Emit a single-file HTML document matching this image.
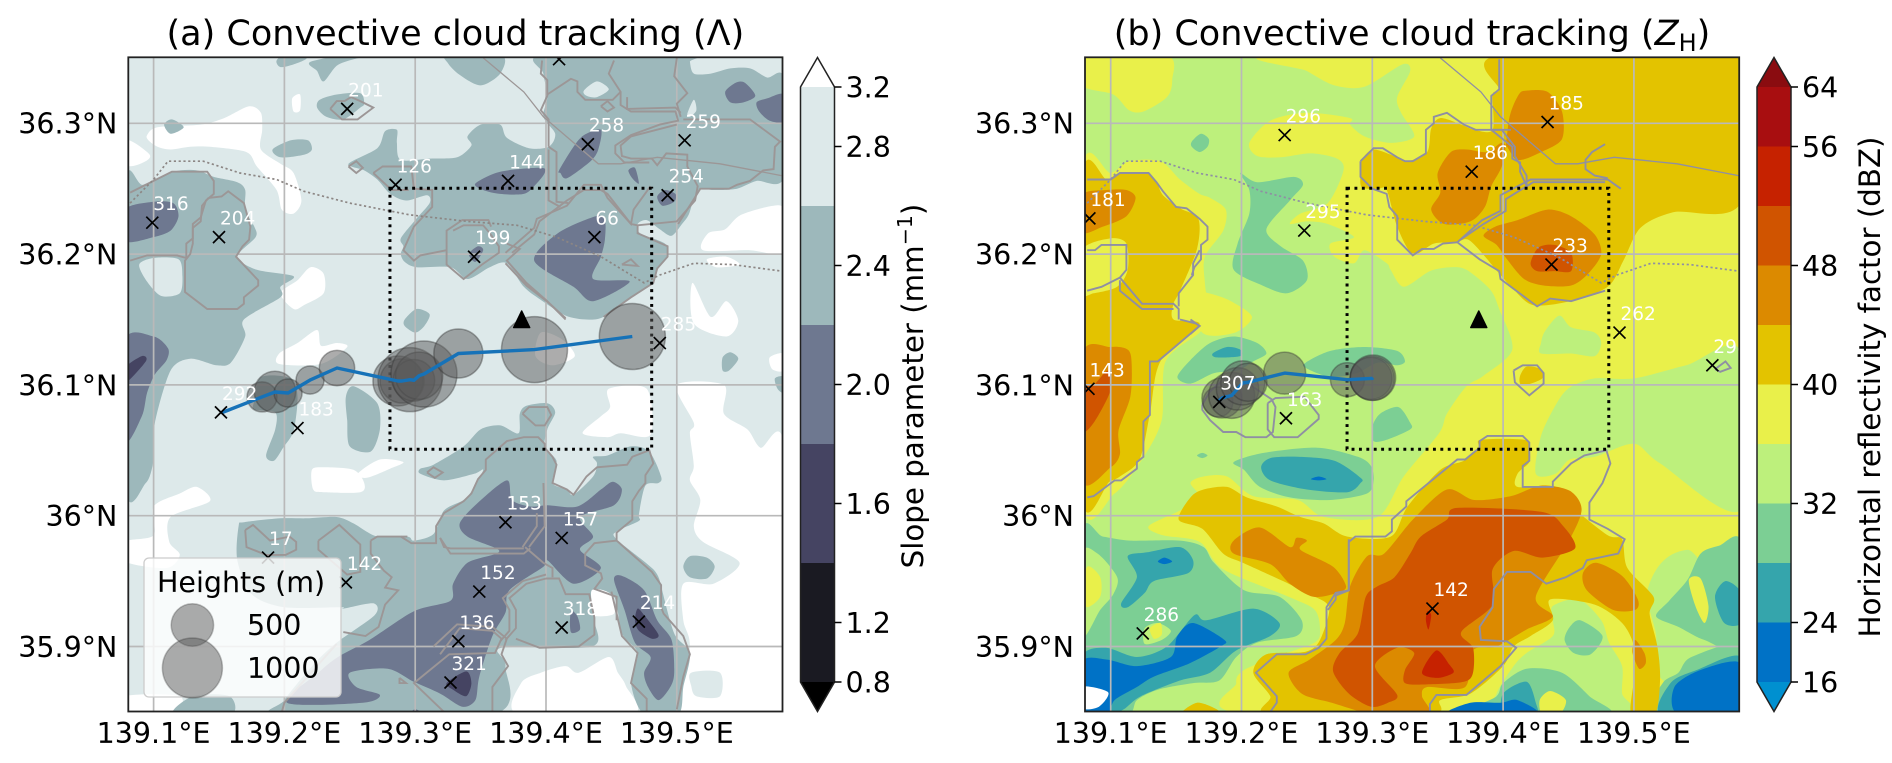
<!DOCTYPE html>
<html lang="en">
<head>
<meta charset="utf-8">
<title>Convective cloud tracking</title>
<style>
html,body{margin:0;padding:0;background:#fff;width:1892px;height:763px;overflow:hidden}
svg{display:block}
text{font-family:"DejaVu Sans","Liberation Sans",sans-serif;fill:#000}
</style>
</head>
<body>
<svg id="chart" xmlns="http://www.w3.org/2000/svg" width="1892" height="763" viewBox="0 0 1892 763">
  <defs>
    <clipPath id="clipA"><rect x="128.3" y="57.3" width="654.2" height="654.2"/></clipPath>
    <clipPath id="clipB"><rect x="1085" y="57.3" width="654.2" height="654.2"/></clipPath>
  </defs>
  <g id="panelA"></g>
  <g id="panelB"></g>
  <text x="455.4" y="45" font-size="35" text-anchor="middle">(a) Convective cloud tracking (Λ)</text>
  <text x="1412" y="45" font-size="35" text-anchor="middle">(b) Convective cloud tracking (<tspan font-style="italic">Z</tspan><tspan font-size="24" dy="6">H</tspan><tspan dy="-6">)</tspan></text>
  <g id="cbarA"></g>
  <g id="cbarB"></g>
  <text transform="translate(923,386) rotate(-90)" font-size="29.3" text-anchor="middle">Slope parameter (mm<tspan font-size="20.5" dy="-11">−1</tspan><tspan dy="11">)</tspan></text>
  <text transform="translate(1880,387) rotate(-90)" font-size="29.3" text-anchor="middle">Horizontal reflectivity factor (dBZ)</text>
  <g id="legendLayer">
    <rect x="144" y="558" width="197" height="139" rx="5" fill="#fff" fill-opacity="0.8" stroke="#ccc" stroke-width="1.3"/>
    <text x="157" y="592" font-size="28.5">Heights (m)</text>
    <text x="247" y="635" font-size="28.5">500</text>
    <text x="247" y="678" font-size="28.5">1000</text>
  </g>
</svg>
<script>
/* ---------- axis + tick data ---------- */
const lonTicks = [139.1, 139.2, 139.3, 139.4, 139.5];
const latTicks = [35.9, 36.0, 36.1, 36.2, 36.3];
const lonTickLabels = ['139.1°E', '139.2°E', '139.3°E', '139.4°E', '139.5°E'];
const latTickLabels = ['35.9°N', '36°N', '36.1°N', '36.2°N', '36.3°N'];

/* ---------- colorbar data ---------- */
const levelsA = [3.2, 2.8, 2.6, 2.4, 2.2, 2.0, 1.8, 1.6, 1.4, 1.2, 0.8];
const bandBoundsA = [3.2, 2.6, 2.2, 1.8, 1.4, 0.8];
const bandColorsA = ['#dde9ea', '#9db8bb', '#6e7890', '#454462', '#1a1a22'];
const ticksA = [3.2, 2.8, 2.4, 2.0, 1.6, 1.2, 0.8];
const levelsB = [64, 56, 52, 48, 44, 40, 36, 32, 28, 24, 16];
const bandBoundsB = [64, 56, 52, 48, 44, 40, 36, 32, 28, 24, 16];
const bandColorsB = ['#a80e10', '#c62200', '#d05400', '#dc8a00', '#e3c300', '#e9f04a', '#bdf07c', '#7ccf94', '#35a5ac', '#0072c6'];
const ticksB = [64, 56, 48, 40, 32, 24, 16];

/* ---------- tracks: lon, lat, height (m) ---------- */
const trackLonA = [139.1515, 139.1829, 139.1928, 139.2028, 139.2196, 139.2402, 139.2868, 139.2900, 139.2960, 139.2990, 139.3030, 139.3067, 139.3330, 139.3912, 139.4660];
const trackLatA = [36.0785, 36.0908, 36.0946, 36.0938, 36.1037, 36.1129, 36.1030, 36.1030, 36.1040, 36.1035, 36.1070, 36.1083, 36.1240, 36.1270, 36.1370];
const trackHeightA = [0, 250, 476, 218, 218, 348, 694, 540, 1138, 480, 620, 1210, 667, 1210, 1210];
const trackLonB = [139.182, 139.185, 139.1925, 139.197, 139.201, 139.205, 139.233, 139.281, 139.299, 139.300, 139.3005];
const trackLatB = [36.087, 36.090, 36.092, 36.097, 36.1015, 36.102, 36.109, 36.104, 36.105, 36.105, 36.1055];
const trackHeightB = [250, 444, 588, 500, 538, 400, 490, 321, 490, 538, 572];
const legendHeights = [500, 1000];

/* ---------- detected cells: lon, lat, id ---------- */
const cellLonA = [139.099, 139.150, 139.248, 139.285, 139.371, 139.345, 139.432, 139.506, 139.493, 139.437, 139.410, 139.487, 139.1515, 139.210, 139.1875, 139.247, 139.369, 139.412, 139.349, 139.333, 139.327, 139.412, 139.471];
const cellLatA = [36.224, 36.213, 36.311, 36.253, 36.256, 36.198, 36.284, 36.287, 36.245, 36.213, 36.349, 36.132, 36.079, 36.067, 35.968, 35.949, 35.995, 35.983, 35.942, 35.904, 35.8725, 35.9145, 35.919];
const cellIdA = ['316', '204', '201', '126', '144', '199', '258', '259', '254', '66', '', '285', '292', '183', '17', '142', '153', '157', '152', '136', '321', '318', '214'];
const cellLonB = [139.0837, 139.083, 139.233, 139.248, 139.376, 139.434, 139.437, 139.489, 139.560, 139.183, 139.234, 139.346, 139.1245];
const cellLatB = [36.2273, 36.097, 36.291, 36.218, 36.263, 36.301, 36.192, 36.140, 36.115, 36.087, 36.0745, 35.929, 35.910];
const cellIdB = ['181', '143', '296', '295', '186', '185', '233', '262', '298', '307', '163', '142', '286'];

/* ---------- map geometry: "x,y" in milli-degrees from (139E, 35.8N) ---------- */
const boxLon = [139.2807, 139.4808];
const boxLat = [36.0508, 36.2503];
const siteLon = [139.3814];
const siteLat = [36.1496];
const dottedBoundary = ["82,439 100,457 111,471 138,471 166,462 194,457 215,448 250,439 296,430 340,425 378,422 408,413 442,398 475,378 487,384 513,393 543,392 580,387"];
const solidBoundary = ["352,550 383,524 398,505 440,469 457,469 485,474 533,469 580,460"];

const whiteA = [
 "95,491 103,497 136,499 154,504 173,513 182,508 183,495 182,480 197,469 207,462 213,441 207,431 198,434 194,449 179,467 171,478 143,482 128,482 113,480 103,482 96,487",
 "80,487 97,476 92,470 80,468",
 "206,519 212,522 212,510 207,509",
 "197,370 210,380 220,390 230,385 230,370 215,361 207,358",
 "500,300 513,271 510,263 513,238 510,227 518,212 513,192 520,180 548,164 528,148 505,148 505,120 510,100 505,48 582,48 582,252 564,252 554,266 536,278 536,300",
 "448,297 477,297 480,262 457,263 447,260 428,263 442,276 449,283",
 "221,235 230,237 253,235 261,225 258,218 230,218 222,220",
 "256,232 273,243 291,241 281,236 263,229",
 "196,324 210,332 225,342 228,330 240,332 248,329 228,316 196,316",
 "100,207 120,217 133,222 143,211 113,199 112,180 120,170 110,160 78,165 78,180 100,185",
 "379,48 381,72 396,80 415,85 425,80 448,92 455,80 461,70 466,48",
 "431,143 448,143 452,125 431,125",
 "78,48 115,48 120,62 78,62",
 "520,403 524,416 537,419 549,430 574,437 582,433 582,401 556,403",
 "523,396 538,398 548,392 530,390",
 "512,378 526,352 538,364 547,349 538,337 513,347",
 "571,321 582,324 582,311 573,312",
 "396,340 412,335 422,322 405,315 392,322"
];
const lightOnWhiteA = ["511,80 533,80 533,62 515,62 511,70"];
const midA = [
 "78,449 92,453 115,463 133,464 146,459 164,455 170,449 170,434 177,421 178,413 164,398 179,388 207,383 197,375 197,367 169,350 170,337 159,317 148,315 128,320 113,311 101,271 100,243 94,225 78,225",
 "194,548 202,554 217,550 207,545 197,543",
 "220,547 256,554 272,553 253,549 240,544 230,532 225,540",
 "225,512 227,518 240,522 258,523 261,515 258,512 245,503 232,505",
 "108,499 114,503 123,497 113,492",
 "191,480 205,487 218,487 221,480 215,476 197,474",
 "249,469 271,481 277,494 286,495 286,485 289,472 311,473 332,474 343,483 340,490 350,499 365,499 370,489 387,481 402,482 407,492 398,505 401,520 398,538 397,552 510,552 510,547 513,538 526,538 541,542 556,542 569,535 582,534 582,459 561,456 546,450 528,449 518,450 513,442 509,430 504,423 496,414 487,419 477,426 470,423 472,416 491,408 493,398 485,388 482,378 465,367 444,352 431,350 415,353 396,365 383,375 370,393 357,390 340,381 327,390 301,390 292,394 289,400 291,406 289,412 300,426 311,439 309,445 293,441 281,446 271,457 261,464",
 "325,552 366,552 365,538 350,529 334,537 325,546",
 "292,350 301,358 311,354 307,345 300,340 292,345",
 "247,291 253,299 271,286 273,266 266,249 250,253 248,273",
 "177,288 182,306 205,305 210,291 207,265 199,252 192,242 186,246 193,266 193,279 177,281",
 "165,192 169,195 197,198 217,198 240,199 253,194 271,184 294,184 299,181 314,186 322,204 337,212 344,220 352,235 345,232 322,227 304,232 304,236 314,239 337,253 350,266 365,269 379,263 380,278 385,284 401,286 407,279 401,266 399,252 408,242 405,225 416,220 421,216 436,230 439,240 436,245 447,246 465,253 479,249 488,230 486,225 476,223 471,201 471,196 454,188 454,182 482,159 488,147 488,146 498,110 510,95 505,69 501,48 475,48 465,72 470,95 458,110 452,138 435,143 437,120 435,100 366,99 369,85 359,48 198,48 200,59 223,87 240,103 269,124 268,133 245,129 243,130 200,130 175,140 164,166",
 "130,62 158,62 159,48 115,48",
 "505,161 510,169 523,168 529,161 523,152 510,153",
 "535,321 541,325 547,320 540,311 535,311",
 "575,305 582,306 582,294 577,297"
];
const lightOnMidA = [
 "89,392 100,397 119,396 122,383 120,370 106,368 95,379",
 "429,525 439,532 448,526 439,520 431,521",
 "508,507 513,518 515,510 510,505"
];
const slateA = [
 "78,434 100,440 115,439 119,429 113,418 100,413 78,410",
 "78,334 100,337 111,328 110,319 101,308 95,294 91,276 78,258",
 "346,454 365,463 396,466 399,462 391,452 383,446 365,446 352,449",
 "410,464 421,482 429,491 442,495 440,480 434,471 416,458 411,462",
 "463,464 468,466 471,454 466,458",
 "485,444 491,449 499,446 498,440 489,437",
 "391,395 409,416 438,429 445,426 445,411 442,398 436,381 464,379 436,364 421,375",
 "341,400 348,406 352,403 346,394",
 "537,524 545,531 552,531 560,521 551,516 541,516",
 "561,516 569,519 582,522 582,502 571,502 563,509",
 "329,148 340,164 362,171 362,175 340,184 334,194 347,209 370,227 374,212 388,207 401,208 424,207 442,220 451,226 458,220 452,208 426,199 436,184 426,174 442,160 421,148 401,166 398,161 372,143 369,126 359,108 349,77 346,59 336,54 319,64 299,73 279,83 250,80 255,69 273,63 260,57 202,57 226,80 241,92 265,105 299,127 327,135",
 "452,151 458,154 475,143 485,120 496,105 498,80 495,69 486,59 478,69 475,80 480,92 468,103 460,128",
 "419,127 424,123 426,113 419,111",
 "296,48 300,52 307,48"
];
const darkA = [
 "78,313 91,322 94,318 78,301",
 "324,72 339,81 343,72 339,62 329,67",
 "470,129 475,124 486,109 481,106 471,112 468,120"
];
const outlinesA = [
 "82,447 92,452 114,463 141,463 146,456 146,446 140,441 136,428 130,423 130,412 125,408 125,397 118,399 95,399 82,395",
 "142,443 152,444 157,448 169,439 174,421 173,411 168,406 163,398 180,380 180,376 169,367 169,362 164,358 141,358 124,371 124,395 128,400 130,408 130,420 136,425 137,437 142,443",
 "235,511 240,517 246,517 251,520 258,517 268,512 256,503 244,503 235,511",
 "249,467 255,471 260,466 255,462 249,467",
 "268,462 275,467 297,467 299,450 313,449 313,436 299,421 291,403 299,395 304,399 324,403",
 "268,462 282,449 295,449",
 "329,418 337,422 352,422 357,416 364,406 364,401 351,392 337,381 324,392 324,418 336,426 356,426 358,421",
 "370,408 380,404 370,395 385,378 401,364 415,350",
 "402,482 408,478 408,440 417,439",
 "402,480 402,441 411,436",
 "397,548 396,538 401,533 401,521 396,510 402,503 402,482",
 "401,522 419,534 424,532 424,524 430,518 451,518 457,524 448,538 452,548",
 "442,513 447,517 452,512 447,509 442,513",
 "457,524 457,514 465,509 499,509 501,502 487,499 465,491 453,483 453,477 460,470 479,470",
 "462,520 462,511 499,512 503,508",
 "500,550 498,536 508,523 500,515 503,505",
 "500,499 465,490 457,483 458,475 465,473 481,473 485,468 492,477 508,476 508,467 516,452 514,441 500,425 470,422 465,423",
 "505,503 556,503 579,486 575,482 574,465 566,464 556,456 546,453 540,450 518,450 513,442 501,423",
 "480,452 467,434 465,423 447,443 442,453 429,453 416,437 393,427 391,420 369,401",
 "465,423 447,446 442,449 429,449 416,441 395,425 391,415 374,401",
 "470,422 470,416 493,406 493,398 485,389 482,378 465,367 444,352",
 "369,393 385,376 403,362 415,351",
 "458,392 465,396 470,391 458,392",
 "382,278 387,283 401,283 404,277 399,269 392,269 382,278",
 "309,233 314,237 321,233 315,229 309,233",
 "289,184 297,179 316,179 316,192 322,202 337,211 343,217 348,228 354,235 354,243 370,257 383,260 394,260 399,255 399,252 405,245 408,239 405,225 416,220 421,216 431,230 439,237 462,239 466,245 479,250 482,240 476,231 476,225 471,219 466,211 466,197 454,187 454,181 481,157 488,147 488,130 490,125 505,108 510,94 505,77 500,52",
 "454,181 437,179 430,171 430,162 442,156 443,152 437,144 454,138 454,120",
 "450,142 458,108 470,95 465,72 477,60 477,50",
 "400,152 385,148 372,137 377,128 377,114 369,105",
 "400,155 382,150 367,137 372,128 372,112 365,104",
 "400,152 410,152 415,140 433,140 437,122 437,109 425,100 395,99 377,106",
 "319,183 327,171 383,171 388,175",
 "319,183 322,176 327,175 383,175",
 "384,176 398,164 405,160 405,153",
 "393,202 393,192 382,176",
 "398,225 399,192 387,176",
 "170,189 176,193 189,181 204,184 209,180 209,174 201,170 186,170 171,176 170,189",
 "226,181 242,193 258,178 258,157 248,155 226,174 226,181",
 "266,181 271,184 294,184",
 "266,181 266,171 276,158 282,153 277,145 287,143 277,132 272,115 262,108 245,111",
 "314,100 332,117 359,115 370,106 366,94 371,85 359,69 359,50",
 "319,94 334,114 359,112 366,106 361,95 326,94 299,72 322,50",
 "288,76 293,72 288,72 288,76",
 "198,50 200,57 240,102"
];

const yellowB = [
 "81,552 143,552 147,533 143,520 125,509 114,510 102,522 78,529 78,552",
 "78,462 100,462 114,471 138,471 153,457 168,446 176,443 188,434 186,418 172,398 172,378 175,350 168,340 142,318 139,273 124,243 103,217 78,212",
 "160,372 175,370 192,364 208,352 195,340 170,340",
 "229,552 582,552 582,170 541,174 521,164 510,140 517,108 514,85 514,48 206,48 196,72 202,82 226,92 256,103 260,113 256,128 236,138 186,159 168,180 140,185 129,192 153,204 168,214 161,225 171,230 189,230 209,215 243,212 263,199 304,199 324,230 351,263 357,278 372,299 385,307 407,327 397,358 390,373 372,388 360,390 344,387 324,375 314,388 311,393 294,403 286,393 271,398 268,408 286,413 266,423 250,425 237,423 245,431 266,439 278,464 273,473 253,477 230,474 212,475 206,485 222,502 250,508 283,504 283,499 294,490 314,485 332,490 322,508 319,520 329,540 323,545 294,528 271,529 250,540"
];
const lightGreenOverlayB = [
 "451,298 441,286 429,261 425,232 440,232 451,243 470,245 500,255 520,240 582,205 582,325 540,315 500,305 470,305",
 "429,332 432,341 443,353 452,344 470,340 475,332 470,322 452,324 429,324",
 "438,131 458,136 475,120 481,103 491,85 491,64 496,48 395,48 395,64 408,85 418,95 438,108 438,120",
 "332,355 347,365 365,354 350,340 335,342"
];
const greenB = [
 "199,462 212,455 240,459 247,453 237,441 219,419 230,406 247,395 250,380 235,370 216,376 194,388 197,408 206,431 206,449",
 "162,486 169,492 175,488 174,482 168,478 162,482",
 "151,306 161,319 176,332 194,337 212,332 219,324 209,318 197,311 179,309 161,301",
 "249,317 268,326 294,329 319,326 325,318 319,315 304,317 288,309 268,306 249,313",
 "300,268 306,278 320,283 329,271 329,266 311,258 301,257",
 "194,241 217,248 258,252 289,245 299,238 301,227 296,217 268,212 237,214 214,222 202,235",
 "166,246 170,248 174,246 170,244",
 "78,186 94,184 115,181 153,181 171,176 179,164 202,143 229,138 246,120 242,108 212,103 196,92 183,74 163,72 136,67 120,59 113,48 78,48",
 "451,115 459,120 476,108 467,94 454,95 447,105",
 "400,72 418,83 445,80 466,62 479,48 375,48 395,62",
 "551,171 565,177 582,180 582,100 554,105 534,115 517,123 527,135 541,151",
 "514,48 522,72 534,80 544,92 582,100 582,48"
];
const lightGreenLobesB = [
 "78,171 90,171 105,153 102,140 92,128 78,108",
 "126,114 136,118 146,112 139,105 126,102"
];
const tealB = [
 "215,237 222,244 243,245 271,242 291,229 291,225 281,218 250,220 222,227",
 "178,324 189,329 199,327 199,322 181,321",
 "113,169 128,172 153,176 163,166 159,156 133,150 126,141 113,130 108,133 120,153",
 "78,92 96,99 120,92 143,100 164,124 173,120 209,129 229,118 222,108 196,97 176,80 153,74 123,62 110,52 100,48 78,48",
 "400,64 418,73 425,57 425,48 401,48",
 "562,138 570,150 582,141 582,118 569,118",
 "521,48 528,72 548,82 582,92 582,48"
];
const blueB = [
 "78,88 97,90 120,85 146,92 151,108 163,118 187,105 184,100 160,87 133,77 120,69 103,59 97,48 78,48",
 "253,228 259,230 265,228 259,227",
 "136,165 141,168 147,165 141,163",
 "358,48 375,57 398,57 411,59 425,48",
 "534,48 531,69 551,82 582,87 582,48"
];
const yellowSmallB = [
 "82,161 92,153 92,138 82,130 78,140",
 "130,114 138,118 139,109 133,106",
 "428,59 436,66 448,59 443,48 430,48",
 "542,151 551,152 557,131 554,118 547,131"
];
const goldB = [
 "78,457 97,457 107,462 128,462 135,455 140,445 153,435 167,427 166,404 153,372 148,362 148,350 168,346 138,318 130,278 122,243 107,230 99,226 78,215",
 "292,472 301,480 319,474 327,471 342,478 345,496 352,504 368,499 378,495 392,495 392,522 397,526 397,552 582,552 582,440 530,432 505,420 492,395 480,375 451,364 423,361 408,373 398,384 375,410 364,409 347,408 331,400 319,421 311,449 304,450 292,451 291,462",
 "413,307 418,314 429,312 430,305 418,300 413,301",
 "161,214 171,220 189,222 204,214 227,207 245,199 263,194 281,184 314,184 327,207 352,235 370,242 381,252 383,258 416,258 420,251 420,241 411,232 411,222 440,222 455,205 480,185 491,182 495,160 515,138 512,125 518,100 520,75 516,48 498,48 500,75 500,100 491,118 470,132 436,136 438,120 421,108 408,100 400,85 375,64 352,59 343,48 222,48 222,62 209,80 219,94 249,96 260,105 267,130 252,140 236,148 201,164 186,171 170,190 152,197",
 "154,48 166,57 181,52 181,48"
];
const yellowOnGoldB = ["78,403 100,412 112,408 113,388 105,375 87,370 78,370"];
const orangeB = [
 "78,445 97,449 112,449 119,443 112,429 94,421 78,417",
 "78,323 100,329 113,327 116,317 115,291 106,265 107,247 100,237 78,227",
 "350,462 360,478 372,480 388,478 400,485 411,472 429,478 445,488 445,509 434,524 418,525 412,522 405,505 400,470 391,452 386,436 375,425 355,423 345,434 352,447",
 "385,414 394,421 411,426 434,434 452,429 470,415 475,400 465,385 452,376 431,376 416,381 403,396 395,407",
 "194,181 214,191 237,176 242,183 250,181 245,174 270,161 280,146 273,141 255,138 237,148 222,163 194,171",
 "283,146 296,169 309,171 331,197 357,220 378,212 406,215 429,223 451,219 460,205 451,182 425,138 438,123 418,113 395,100 377,97 371,69 342,69 338,62 343,48 302,48 269,57 246,64 236,80 252,90 272,105 279,118",
 "461,156 471,164 491,154 503,136 501,128 484,128 464,143",
 "501,105 508,95 509,87 504,83 499,95"
];
const burntB = [
 "78,297 87,300 98,311 100,296 87,271 78,265",
 "421,393 427,405 439,407 452,401 452,387 439,387 426,387",
 "295,138 304,146 317,153 329,171 337,184 357,197 365,206 429,203 446,192 455,175 430,168 408,173 392,159 392,132 368,111 377,99 377,80 370,73 342,71 325,72 325,82 332,95 319,99 302,85 319,63 312,57 299,54 282,64 270,81 275,95 289,110"
];
const redB = [
 "349,97 359,86 362,80 350,76 338,80",
 "342,127 345,124 343,113 341,120"
];
const whiteB = ["78,69 98,65 91,54 78,53"];
const outlinesB = [
 "82,457 100,457 107,462 129,462 135,455 140,448 150,436 158,435 168,427 174,421 174,411 169,407 169,396 164,390 162,384",
 "82,403 88,403 93,407 112,407 112,388 107,382 93,375 82,372",
 "107,380 107,372 124,358 148,358",
 "107,382 124,362 148,362 152,358 152,350",
 "168,403 163,393 163,384 152,370 152,360",
 "153,350 165,347 168,345 136,318 130,318 130,277 125,272 125,245 120,241 120,236 108,227 103,227 87,215 82,214",
 "291,471 301,481 308,481 319,474 325,471 331,471 341,477 341,495 347,500 347,505 357,508 370,499 379,495 406,495",
 "291,471 291,459 300,450 311,446 313,436 319,429 319,411 331,399 338,404 347,404 354,408 365,409",
 "365,409 384,426 398,433 398,445 421,457 452,457 480,457 490,450",
 "366,410 385,423 402,433 402,442 423,455 452,455 478,455",
 "365,409 382,396 397,387 398,381 426,360 436,366 452,364 478,372",
 "397,549 397,526 391,521 391,495 407,482 407,473 413,470 413,463 418,452",
 "391,495 399,495 409,482 409,475 418,460 418,450",
 "408,311 415,315 426,315 431,309 431,301 420,292 409,302 408,311",
 "266,128 272,136 272,139 282,143 282,180 287,184 310,184 315,188 315,197 326,207 326,211 365,243 371,243 382,252 382,257 388,261 415,261 420,256 420,242 415,238 415,222 438,222 438,226 452,240 462,246 479,250 482,240 476,225 466,210 466,197 480,190 493,182 488,171 464,166 461,160 448,153 433,148 421,157 403,157 393,144 392,130 382,115 383,105 403,104 410,99 398,85 372,63 349,63 344,56 344,50",
 "282,182 282,143 272,141 265,130 265,106 259,99 249,94 227,94 211,80 227,62 227,57 222,50",
 "170,285 176,295 186,304 202,303 223,289 226,283 224,264 219,260 203,260 196,264 186,264 176,273 170,281 170,285",
 "220,286 226,290 248,291 259,277 259,274 243,260 225,260 220,266 220,286",
 "161,350 168,345 161,339",
 "562,312 570,318 574,313 566,310 562,312",
 "478,484 468,478 463,472 463,465 470,460 480,458"
];

/* ---------- drawing helpers ---------- */
const SVGNS = 'http://www.w3.org/2000/svg';
const GRID_X0_A = 153.6;
const GRID_X0_B = 1110.7;
const PX_PER_DEG = 1308;
const radiusForHeight = h => 30 * Math.sqrt(h / 1000);

function parsePts(str) {
  return str.trim().split(/\s+/).map(p => p.split(',').map(Number));
}
function mk(tag, attrs, parent) {
  const el = document.createElementNS(SVGNS, tag);
  for (const k in attrs) el.setAttribute(k, attrs[k]);
  parent.appendChild(el);
  return el;
}
function makeAxes(x0) {
  return {
    x: lon => x0 + (lon - 139.1) * PX_PER_DEG,
    y: lat => 646.5 - (lat - 35.9) * PX_PER_DEG
  };
}
function project(ax, pts) {
  return pts.map(p => [ax.x(139 + p[0] / 1000), ax.y(35.8 + p[1] / 1000)]);
}
function smoothPath(pts) {
  const n = pts.length;
  let d = 'M' + pts[0][0].toFixed(1) + ' ' + pts[0][1].toFixed(1);
  for (let i = 0; i < n; i++) {
    const p0 = pts[(i - 1 + n) % n], p1 = pts[i], p2 = pts[(i + 1) % n], p3 = pts[(i + 2) % n];
    const c1x = p1[0] + (p2[0] - p0[0]) / 7, c1y = p1[1] + (p2[1] - p0[1]) / 7;
    const c2x = p2[0] - (p3[0] - p1[0]) / 7, c2y = p2[1] - (p3[1] - p1[1]) / 7;
    d += 'C' + c1x.toFixed(1) + ' ' + c1y.toFixed(1) + ' ' + c2x.toFixed(1) + ' ' + c2y.toFixed(1) + ' ' + p2[0].toFixed(1) + ' ' + p2[1].toFixed(1);
  }
  return d + 'Z';
}
function drawFills(ax, parent, list, color, name) {
  list.forEach(s => {
    const el = mk('path', { d: smoothPath(project(ax, parsePts(s))), fill: color }, parent);
    
    
  });
}
function drawLines(ax, parent, list, attrs, name) {
  list.forEach(s => {
    const pts = project(ax, parsePts(s)).map(p => p[0].toFixed(1) + ',' + p[1].toFixed(1)).join(' ');
    const el = mk('polyline', Object.assign({ points: pts, fill: 'none' }, attrs), parent);
    
    
  });
}
function drawGrid(ax, parent) {
  lonTicks.forEach(lon => {
    const el = mk('line', { x1: ax.x(lon), x2: ax.x(lon), y1: 57, y2: 712, stroke: '#b9b9b9', 'stroke-width': 1.7 }, parent);
    
    
  });
  latTicks.forEach(lat => {
    const el = mk('line', { x1: ax.x(139.0), x2: ax.x(139.6), y1: ax.y(lat), y2: ax.y(lat), stroke: '#b9b9b9', 'stroke-width': 1.7 }, parent);
    
    
  });
}
function drawBox(ax, parent) {
  const x1 = ax.x(boxLon[0]), x2 = ax.x(boxLon[1]), y1 = ax.y(boxLat[1]), y2 = ax.y(boxLat[0]);
  const el = mk('rect', { x: x1, y: y1, width: x2 - x1, height: y2 - y1, fill: 'none', stroke: '#000', 'stroke-width': 3, 'stroke-dasharray': '2.9 4.5' }, parent);
  
  
}
function drawTrack(ax, parent, lons, lats, heights) {
  lons.forEach((lon, i) => {
    if (heights[i] <= 0) return;
    const el = mk('circle', { cx: ax.x(lon), cy: ax.y(lats[i]), r: radiusForHeight(heights[i]), fill: 'rgba(90,90,90,0.5)', stroke: 'rgba(50,50,50,0.4)', 'stroke-width': 1.5 }, parent);
    
    
  });
  const pts = lons.map((lon, i) => ax.x(lon).toFixed(1) + ',' + ax.y(lats[i]).toFixed(1)).join(' ');
  const line = mk('polyline', { points: pts, fill: 'none', stroke: '#1672b8', 'stroke-width': 3.4, 'stroke-linejoin': 'round' }, parent);
  
  
}
function drawSite(ax, parent) {
  const cx = ax.x(siteLon[0]), cy = ax.y(siteLat[0]);
  const el = mk('path', { d: 'M' + cx + ' ' + (cy - 9) + 'L' + (cx + 8) + ' ' + (cy + 7.5) + 'L' + (cx - 8) + ' ' + (cy + 7.5) + 'Z', fill: '#000', stroke: '#000', 'stroke-width': 1.5, 'stroke-linejoin': 'round' }, parent);
  
  
}
function drawCells(ax, parent, lons, lats, ids) {
  lons.forEach((lon, i) => {
    const x = ax.x(lon), y = ax.y(lats[i]);
    const cross = mk('path', { d: 'M' + (x - 6) + ' ' + (y - 6) + 'L' + (x + 6) + ' ' + (y + 6) + 'M' + (x - 6) + ' ' + (y + 6) + 'L' + (x + 6) + ' ' + (y - 6), stroke: '#000', 'stroke-width': 1.7, fill: 'none' }, parent);
    
    
    if (!ids[i]) return;
    const t = mk('text', { x: x + 1, y: y - 12.5, 'font-size': 18.5 }, parent);
    t.style.fill = '#fff';
    t.textContent = ids[i];
    
    
  });
}
function drawAxesFrame(ax, parent, left) {
  const frame = mk('rect', { x: left, y: 57.3, width: 654.2, height: 654.2, fill: 'none', stroke: '#222', 'stroke-width': 1.8 }, parent);
  
  
  lonTicks.forEach((lon, i) => {
    const t = mk('text', { x: ax.x(lon), y: 743, 'font-size': 28.5, 'text-anchor': 'middle' }, parent);
    t.textContent = lonTickLabels[i];
    
    
  });
  latTicks.forEach((lat, i) => {
    const t = mk('text', { x: left - 11, y: ax.y(lat) + 10.4, 'font-size': 28.5, 'text-anchor': 'end' }, parent);
    t.textContent = latTickLabels[i];
    
    
  });
}
function drawColorbar(parent, x, levels, bounds, colors, ticks, topExt, botExt) {
  const w = 34, top = 87, slot = 59.5;
  const yOf = v => top + levels.indexOf(v) * slot;
  colors.forEach((c, i) => {
    const y1 = yOf(bounds[i]), y2 = yOf(bounds[i + 1]);
    const el = mk('rect', { x: x, y: y1, width: w, height: y2 - y1 + 0.4, fill: c }, parent);
    
    
  });
  const bottom = top + (levels.length - 1) * slot;
  const t1 = mk('path', { d: 'M' + x + ' ' + top + 'L' + (x + w / 2) + ' 57.5L' + (x + w) + ' ' + top + 'Z', fill: topExt }, parent);
  
  
  const t2 = mk('path', { d: 'M' + x + ' ' + bottom + 'L' + (x + w / 2) + ' 711.5L' + (x + w) + ' ' + bottom + 'Z', fill: botExt }, parent);
  
  
  const outline = mk('path', { d: 'M' + x + ' ' + top + 'L' + (x + w / 2) + ' 57.5L' + (x + w) + ' ' + top + 'L' + (x + w) + ' ' + bottom + 'L' + (x + w / 2) + ' 711.5L' + x + ' ' + bottom + 'Z', fill: 'none', stroke: '#222', 'stroke-width': 1.5 }, parent);
  
  
  ticks.forEach(v => {
    const y = yOf(v);
    const tick = mk('line', { x1: x + w, x2: x + w + 7, y1: y, y2: y, stroke: '#000', 'stroke-width': 1.5 }, parent);
    
    
    const t = mk('text', { x: x + w + 11, y: y + 10.4, 'font-size': 28.5 }, parent);
    t.textContent = Number.isInteger(v) && levels === levelsB ? String(v) : v.toFixed(1);
    
    
  });
}

/* ---------- panel (a) ---------- */
(function () {
  const ax = makeAxes(GRID_X0_A);
  const root = document.getElementById('panelA');
  const g = mk('g', { 'clip-path': 'url(#clipA)' }, root);
  const bg = mk('rect', { x: 128, y: 57, width: 655, height: 655, fill: '#dde9ea' }, g);
  
  
  drawFills(ax, g, whiteA, '#ffffff', 'slope-above-range-region');
  drawFills(ax, g, lightOnWhiteA, '#dde9ea', 'slope-contour-light');
  drawFills(ax, g, midA, '#9db8bb', 'slope-contour-2-4');
  drawFills(ax, g, lightOnMidA, '#dde9ea', 'slope-contour-light');
  drawFills(ax, g, slateA, '#6e7890', 'slope-contour-2-0');
  drawFills(ax, g, darkA, '#454462', 'slope-contour-1-6');
  drawGrid(ax, g);
  drawLines(ax, g, outlinesA, { stroke: '#9c9696', 'stroke-width': 1.9, 'stroke-linejoin': 'miter' }, 'cell-outline');
  drawLines(ax, g, dottedBoundary, { stroke: '#8c8684', 'stroke-width': 1.7, 'stroke-dasharray': '2.2 2.6' }, 'boundary-dotted');
  drawLines(ax, g, solidBoundary, { stroke: '#9c9696', 'stroke-width': 1.3 }, 'boundary-solid');
  drawBox(ax, g);
  drawTrack(ax, g, trackLonA, trackLatA, trackHeightA);
  drawSite(ax, g);
  drawCells(ax, g, cellLonA, cellLatA, cellIdA);
  drawAxesFrame(ax, root, 128.3);
})();

/* ---------- panel (b) ---------- */
(function () {
  const ax = makeAxes(GRID_X0_B);
  const root = document.getElementById('panelB');
  const g = mk('g', { 'clip-path': 'url(#clipB)' }, root);
  const bg = mk('rect', { x: 1085, y: 57, width: 655, height: 655, fill: '#bdf07c' }, g);
  
  
  drawFills(ax, g, yellowB, '#e9f04a', 'reflectivity-contour-36');
  drawFills(ax, g, lightGreenOverlayB, '#bdf07c', 'reflectivity-contour-32');
  drawFills(ax, g, greenB, '#7ccf94', 'reflectivity-contour-28');
  drawFills(ax, g, lightGreenLobesB, '#bdf07c', 'reflectivity-contour-32');
  drawFills(ax, g, tealB, '#35a5ac', 'reflectivity-contour-24');
  drawFills(ax, g, blueB, '#0072c6', 'reflectivity-contour-16');
  drawFills(ax, g, whiteB, '#ffffff', 'reflectivity-missing-region');
  drawFills(ax, g, yellowSmallB, '#e9f04a', 'reflectivity-contour-36');
  drawFills(ax, g, goldB, '#e3c300', 'reflectivity-contour-40');
  drawFills(ax, g, yellowOnGoldB, '#e9f04a', 'reflectivity-contour-36');
  drawFills(ax, g, orangeB, '#dc8a00', 'reflectivity-contour-44');
  drawFills(ax, g, burntB, '#d05400', 'reflectivity-contour-48');
  drawFills(ax, g, redB, '#c62200', 'reflectivity-contour-52');
  drawGrid(ax, g);
  drawLines(ax, g, outlinesB, { stroke: '#8f8fa3', 'stroke-width': 1.9, 'stroke-linejoin': 'miter' }, 'cell-outline');
  drawLines(ax, g, dottedBoundary, { stroke: '#8f8fa3', 'stroke-width': 1.7, 'stroke-dasharray': '2.2 2.6' }, 'boundary-dotted');
  drawLines(ax, g, solidBoundary, { stroke: '#8f8fa3', 'stroke-width': 1.3 }, 'boundary-solid');
  drawBox(ax, g);
  drawTrack(ax, g, trackLonB, trackLatB, trackHeightB);
  drawSite(ax, g);
  drawCells(ax, g, cellLonB, cellLatB, cellIdB);
  drawAxesFrame(ax, root, 1085);
})();

/* ---------- colorbars ---------- */
drawColorbar(document.getElementById('cbarA'), 800.5, levelsA, bandBoundsA, bandColorsA, ticksA, '#ffffff', '#000000');
drawColorbar(document.getElementById('cbarB'), 1757, levelsB, bandBoundsB, bandColorsB, ticksB, '#8a0c10', '#0090d0');

/* ---------- legend handles ---------- */
(function () {
  const layer = document.getElementById('legendLayer');
  const handleY = [625, 668];
  legendHeights.forEach((h, i) => {
    const el = mk('circle', { cx: 192.4, cy: handleY[i], r: radiusForHeight(h), fill: 'rgba(90,90,90,0.5)', stroke: 'rgba(50,50,50,0.3)', 'stroke-width': 1.5 }, layer);
    
    
  });
})();
</script>
</body>
</html>
